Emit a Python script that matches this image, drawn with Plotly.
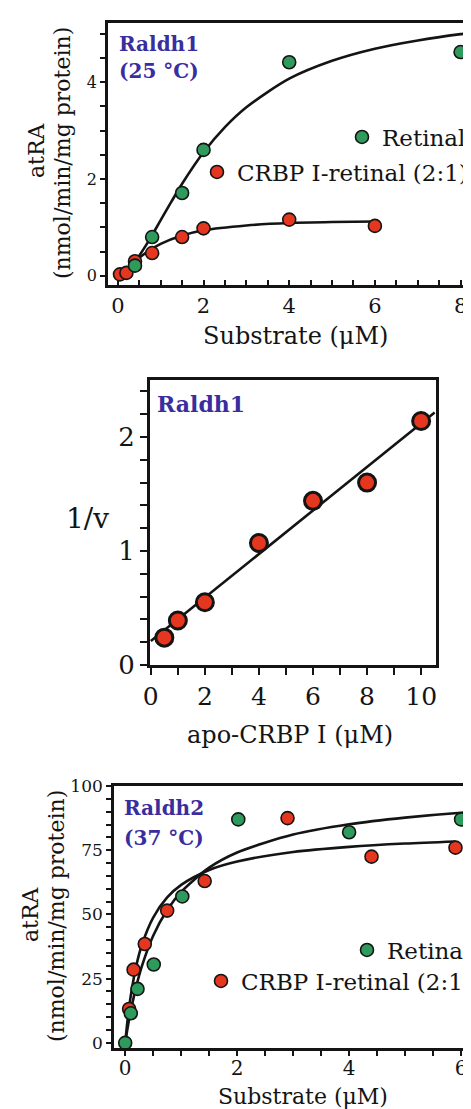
import plotly.graph_objects as go

W, H = 471, 1109
SERIF = "DejaVu Serif"
GREEN = "#2e9a5c"
RED = "#e5361f"
TITLE_C = "#3a2d9e"
INK = "#141414"

# ---------------- Panel 1: Raldh1 (25 °C) ----------------
p1_ret_x = [0.4, 0.8, 1.5, 2, 4, 8]
p1_ret_y = [0.21, 0.8, 1.71, 2.6, 4.41, 4.62]
p1_crbp_x = [0.05, 0.2, 0.4, 0.8, 1.5, 2, 4, 6]
p1_crbp_y = [0.03, 0.06, 0.3, 0.47, 0.8, 0.98, 1.16, 1.03]
# fitted curves
p1_ret_fit_x = [0.05, 0.2, 0.4, 0.6, 0.8, 1.0, 1.25, 1.5, 2, 2.5, 3, 4, 5, 6, 7, 8, 8.5]
p1_ret_fit_y = [0.01, 0.09, 0.29, 0.55, 0.84, 1.15, 1.53, 1.9, 2.55, 3.07, 3.48, 4.07, 4.44, 4.69, 4.86, 4.99, 5.04]
p1_crbp_fit_x = [0.05, 0.2, 0.4, 0.6, 0.8, 1.0, 1.5, 2, 3, 4, 5, 6]
p1_crbp_fit_y = [0.02, 0.12, 0.3, 0.44, 0.56, 0.66, 0.83, 0.94, 1.04, 1.09, 1.11, 1.12]

# ---------------- Panel 2: Raldh1, 1/v vs apo-CRBP I ----------------
p2_x = [0.5, 1, 2, 4, 6, 8, 10]
p2_y = [0.24, 0.39, 0.55, 1.07, 1.44, 1.6, 2.14]
p2_fit_x = [0, 10.5]
p2_fit_y = [0.21, 2.215]

# ---------------- Panel 3: Raldh2 (37 °C) ----------------
p3_ret_x = [0, 0.1, 0.22, 0.51, 1.02, 2.02, 4, 6]
p3_ret_y = [0, 11.5, 21, 30.5, 57, 87, 82, 87]
p3_crbp_x = [0.07, 0.15, 0.35, 0.75, 1.42, 2.9, 4.4, 5.9]
p3_crbp_y = [13.2, 28.5, 38.5, 51.5, 63, 87.5, 72.5, 76]
p3_ret_fit_x = [0, 0.05, 0.1, 0.2, 0.3, 0.5, 0.75, 1, 1.5, 2, 3, 4, 5, 6, 6.4]
p3_ret_fit_y = [0, 6.7, 12.5, 22.2, 30, 41.7, 51.7, 58.8, 68.2, 74.1, 81.1, 85.1, 87.7, 89.6, 90.1]
p3_crbp_fit_x = [0, 0.05, 0.1, 0.2, 0.3, 0.5, 0.75, 1, 1.5, 2, 3, 4, 5, 5.9]
p3_crbp_fit_y = [0, 10.4, 18.4, 30.2, 38.3, 48.8, 56.6, 61.5, 67.3, 70.6, 74.3, 76.3, 77.6, 78.4]

legend_names = ["Retinal", "CRBP I-retinal (2:1)"]


def px_x(p):
    return p / W


def px_y(p):
    return 1 - p / H


fig = go.Figure()

line_style = dict(color=INK, width=2.6)


def fit(xs, ys, xa, ya, shape="spline"):
    fig.add_trace(go.Scatter(x=xs, y=ys, mode="lines", line=dict(shape=shape, smoothing=0.8, **line_style),
                             xaxis=xa, yaxis=ya, showlegend=False, hoverinfo="skip"))


def pts(xs, ys, xa, ya, color, size, lw, name=None, legend=None):
    fig.add_trace(go.Scatter(x=xs, y=ys, mode="markers",
                             marker=dict(color=color, size=size, line=dict(color=INK, width=lw)),
                             xaxis=xa, yaxis=ya, name=name or "",
                             showlegend=name is not None, legend=legend))


# panel 1
fit(p1_ret_fit_x, p1_ret_fit_y, "x", "y")
fit(p1_crbp_fit_x, p1_crbp_fit_y, "x", "y")
pts(p1_crbp_x, p1_crbp_y, "x", "y", RED, 13, 1.6, legend_names[1], "legend2")
pts(p1_ret_x, p1_ret_y, "x", "y", GREEN, 13, 1.6, legend_names[0], "legend")

# panel 2
fit(p2_fit_x, p2_fit_y, "x2", "y2", shape="linear")
pts(p2_x, p2_y, "x2", "y2", RED, 17, 3)

# panel 3
fit(p3_ret_fit_x, p3_ret_fit_y, "x3", "y3")
fit(p3_crbp_fit_x, p3_crbp_fit_y, "x3", "y3")
pts(p3_crbp_x, p3_crbp_y, "x3", "y3", RED, 13, 1.6, legend_names[1], "legend4")
pts(p3_ret_x, p3_ret_y, "x3", "y3", GREEN, 13, 1.6, legend_names[0], "legend3")


def axis(domain, rng, dtick, minor_dtick, ticks, ticklen, fsize, anchor, mirror, lw=2.6, standoff=0):
    return dict(domain=domain, range=rng, dtick=dtick, tick0=0, ticks=ticks, ticklen=ticklen,
                tickwidth=2, tickcolor=INK, showline=True, linecolor=INK, linewidth=lw,
                mirror=mirror, showgrid=False, zeroline=False, anchor=anchor, automargin=False,
                ticklabelstandoff=standoff,
                tickfont=dict(family=SERIF, size=fsize, color=INK),
                minor=dict(dtick=minor_dtick, tick0=0, ticks=ticks, ticklen=ticklen, tickwidth=2,
                           tickcolor=INK, showgrid=False))


layout = dict(
    width=W, height=H, margin=dict(l=0, r=0, t=0, b=0, autoexpand=False),
    paper_bgcolor="white", plot_bgcolor="white",
    xaxis=axis([px_x(100), 1], [-0.23, 8.43], 2, 0.5, "inside", 5, 21, "y", True),
    yaxis=axis([px_y(277), px_y(15)], [-0.19, 5.22], 2, 0.5, "outside", 5, 16, "x", False),
    xaxis2=axis([px_x(142), px_x(428)], [-0.03, 10.55], 2, 1, "outside", 7, 25, "y2", True, 3),
    yaxis2=axis([px_y(657), px_y(372)], [0, 2.5], 1, 0.2, "outside", 7, 26, "x2", True, 3),
    xaxis3=axis([px_x(106), 1], [-0.2, 6.32], 2, 0.5, "outside", 5, 20, "y3", True, standoff=-5),
    yaxis3=axis([px_y(1040), px_y(778)], [-2, 100], 25, 5, "outside", 5, 17, "x3", False),
)

TXT_OFF = 46
leg_common = dict(xanchor="left", yanchor="middle", bgcolor="rgba(0,0,0,0)", itemwidth=30,
                  font=dict(family=SERIF, size=23, color=INK), borderwidth=0)
layout["legend"] = dict(x=px_x(380 - TXT_OFF), y=px_y(129), **leg_common)
layout["legend2"] = dict(x=px_x(235 - TXT_OFF), y=px_y(164), **leg_common)
layout["legend3"] = dict(x=px_x(385 - TXT_OFF), y=px_y(942), **leg_common)
layout["legend4"] = dict(x=px_x(239 - TXT_OFF), y=px_y(973), **leg_common)
fig.update_layout(**layout)


def note(text, x, y, size, color=INK, bold=False, angle=0, xanchor="center", align="center"):
    fig.add_annotation(text=f"<b>{text}</b>" if bold else text, x=px_x(x), y=px_y(y),
                       xref="paper", yref="paper", xanchor=xanchor, yanchor="middle",
                       showarrow=False, textangle=angle, align=align,
                       font=dict(family=SERIF, size=size, color=color))


# panel titles
note("Raldh1", 109, 36, 20, TITLE_C, True, xanchor="left")
note("(25 °C)", 109, 63, 20, TITLE_C, True, xanchor="left")
note("Raldh1", 147, 396, 22, TITLE_C, True, xanchor="left")
note("Raldh2", 114, 800, 20, TITLE_C, True, xanchor="left")
note("(37 °C)", 114, 830, 20, TITLE_C, True, xanchor="left")

# axis titles
note("atRA", 29, 142, 22, angle=-90)
note("(nmol/min/mg protein)", 55, 145, 22, angle=-90)
note("Substrate (μM)", 287, 328, 24)
note("1/v", 79, 511, 28)
note("apo-CRBP I (μM)", 282, 727, 24)
note("atRA", 22, 906, 22, angle=-90)
note("(nmol/min/mg protein)", 48, 908, 22, angle=-90)
note("Substrate (μM)", 295, 1088, 22)

fig.write_html("out.html")
